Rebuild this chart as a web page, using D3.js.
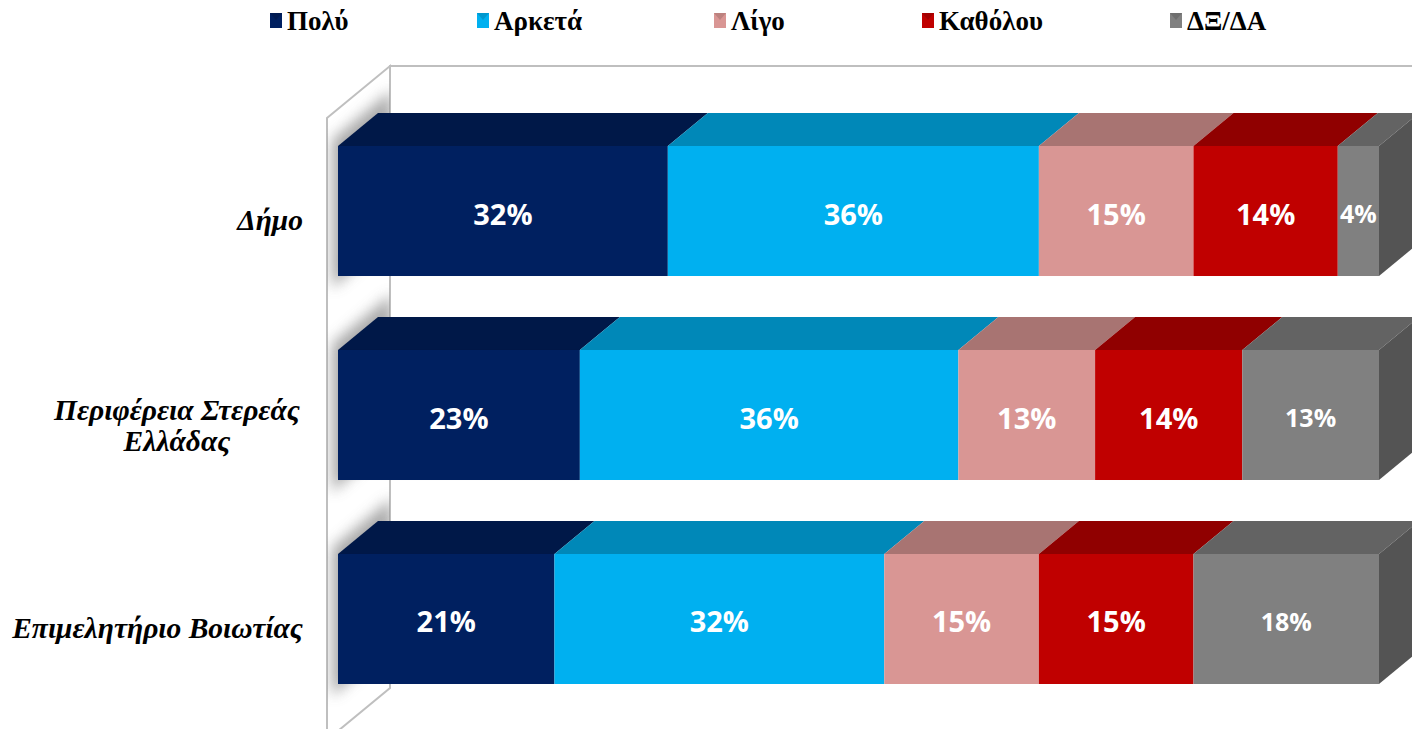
<!DOCTYPE html>
<meta charset="utf-8">
<script src="https://d3js.org/d3.v7.min.js"></script>
<style>
  body { margin: 0; background: #fff; }
</style>
<body>
<div id="chart"></div>
<script>
// ---- data ----
var categories = ["Δήμο", "Περιφέρεια Στερεάς Ελλάδας", "Επιμελητήριο Βοιωτίας"];
var seriesNames = ["Πολύ", "Αρκετά", "Λίγο", "Καθόλου", "ΔΞ/ΔΑ"];
var poly     = [32, 23, 21];
var arketa   = [36, 36, 32];
var ligo     = [15, 13, 15];
var katholou = [14, 14, 15];
var dxda     = [4, 13, 18];

var frontColors = ["#002060", "#00B0F0", "#D99694", "#C00000", "#808080"];
var topColors   = ["#001848", "#0088B8", "#A87472", "#900000", "#636363"];
var sideColor   = "#545454";

var W = 1412, H = 729;
var depthX = 40, depthY = -33;

var svg = d3.select("#chart").append("svg")
  .attr("width", W).attr("height", H);

var defs = svg.append("defs");
defs.append("filter").attr("id", "blur")
  .attr("x", "-50%").attr("y", "-50%").attr("width", "200%").attr("height", "200%")
  .append("feGaussianBlur").attr("stdDeviation", 7);

// table for the stack
var table = categories.map(function(c, i) {
  return { cat: c, "Πολύ": poly[i], "Αρκετά": arketa[i], "Λίγο": ligo[i], "Καθόλου": katholou[i], "ΔΞ/ΔΑ": dxda[i] };
});
var stacked = d3.stack().keys(seriesNames).offset(d3.stackOffsetExpand)(table);

var x = d3.scaleLinear().domain([0, 1]).range([338, 1379]);
var y = d3.scaleBand().domain(categories).range([146, 684]).paddingInner(0.3627).paddingOuter(0);
var color = d3.scaleOrdinal().domain(seriesNames).range(frontColors);
var topColor = d3.scaleOrdinal().domain(seriesNames).range(topColors);

// ---- walls ----
var wallClip = defs.append("clipPath").attr("id", "wallclip");
wallClip.append("polygon").attr("points", "327,118 390,66 390,688 327,740");

var walls = svg.append("g");
walls.append("polygon")
  .attr("points", "327,118 390,66 390,688 327,740")
  .attr("fill", "#fff").attr("stroke", "#BFBFBF").attr("stroke-width", 2);
walls.append("polyline")
  .attr("points", "390,688 390,66 1412,66")
  .attr("fill", "none").attr("stroke", "#BFBFBF").attr("stroke-width", 2);

// bar shadows on the left wall
walls.append("g").attr("clip-path", "url(#wallclip)")
  .selectAll("polygon").data(categories).join("polygon")
  .attr("points", function(d) {
    var t = y(d), b = y(d) + y.bandwidth();
    return [[332, t - 6], [392, t - 56], [392, b - 40], [332, b + 12]].join(" ");
  })
  .attr("fill", "#8c8c8c").attr("opacity", 0.75)
  .attr("filter", "url(#blur)");

// ---- bars ----
var bars = svg.append("g");
stacked.forEach(function(s) {
  var g = bars.append("g");
  s.forEach(function(d) {
    var x0 = x(d[0]), x1 = x(d[1]), yt = y(d.data.cat);
    // top face
    g.append("polygon")
      .attr("points", [[x0, yt], [x0 + depthX, yt + depthY], [x1 + depthX, yt + depthY], [x1, yt]].join(" "))
      .attr("fill", topColor(s.key));
    // front face
    g.append("rect")
      .attr("x", x0).attr("y", yt).attr("width", x1 - x0).attr("height", y.bandwidth())
      .attr("fill", color(s.key));
  });
});
// right side faces
bars.append("g").selectAll("polygon").data(categories).join("polygon")
  .attr("points", function(d) {
    var xr = x(1), yt = y(d), yb = yt + y.bandwidth();
    return [[xr, yt], [xr + depthX, yt + depthY], [xr + depthX, yb + depthY], [xr, yb]].join(" ");
  })
  .attr("fill", sideColor);

// value labels
stacked.forEach(function(s) {
  bars.append("g").selectAll("text").data(s).join("text")
    .attr("x", function(d) { return (x(d[0]) + x(d[1])) / 2; })
    .attr("y", function(d) { return y(d.data.cat) + y.bandwidth() / 2 + 2; })
    .attr("text-anchor", "middle")
    .attr("dominant-baseline", "central")
    .attr("fill", "#fff")
    .style("font-family", "'Open Sans', sans-serif")
    .style("font-weight", "bold")
    .style("font-size", s.key === "ΔΞ/ΔΑ" ? "25px" : "29px")
    .text(function(d) { return d.data[s.key] + "%"; });
});

// category labels
var catLines = {
  "Δήμο": ["Δήμο"],
  "Περιφέρεια Στερεάς Ελλάδας": ["Περιφέρεια Στερεάς", "Ελλάδας"],
  "Επιμελητήριο Βοιωτίας": ["Επιμελητήριο Βοιωτίας"]
};
var catG = svg.append("g");
categories.forEach(function(c) {
  var lines = catLines[c];
  var cy = y(c) + y.bandwidth() / 2;
  var t = catG.append("text")
    .attr("text-anchor", lines.length > 1 ? "middle" : "end")
    .style("font-family", "'Liberation Serif', serif")
    .style("font-weight", "bold")
    .style("font-style", "italic")
    .style("font-size", "29.5px")
    .attr("fill", "#000");
  lines.forEach(function(l, i) {
    t.append("tspan")
      .attr("x", lines.length > 1 ? 177 : 303)
      .attr("y", lines.length > 1 ? cy + 5 + i * 31 : cy + 19)
      .text(l);
  });
});

// ---- legend ----
var legendX = [270, 477, 714, 922, 1170];
var legend = svg.append("g");
seriesNames.forEach(function(n, i) {
  var lg = legend.append("g").attr("transform", "translate(" + legendX[i] + ",0)");
  lg.append("rect").attr("x", 0).attr("y", 13).attr("width", 12).attr("height", 15)
    .attr("fill", frontColors[i]);
  lg.append("polygon").attr("points", "0,13 12,13 6,20").attr("fill", topColors[i]).attr("opacity", 0.6);
  lg.append("text")
    .attr("x", 17).attr("y", 30)
    .style("font-family", "'Liberation Serif', serif")
    .style("font-weight", "bold")
    .style("font-size", "27px")
    .text(n);
});
</script>
</body>
